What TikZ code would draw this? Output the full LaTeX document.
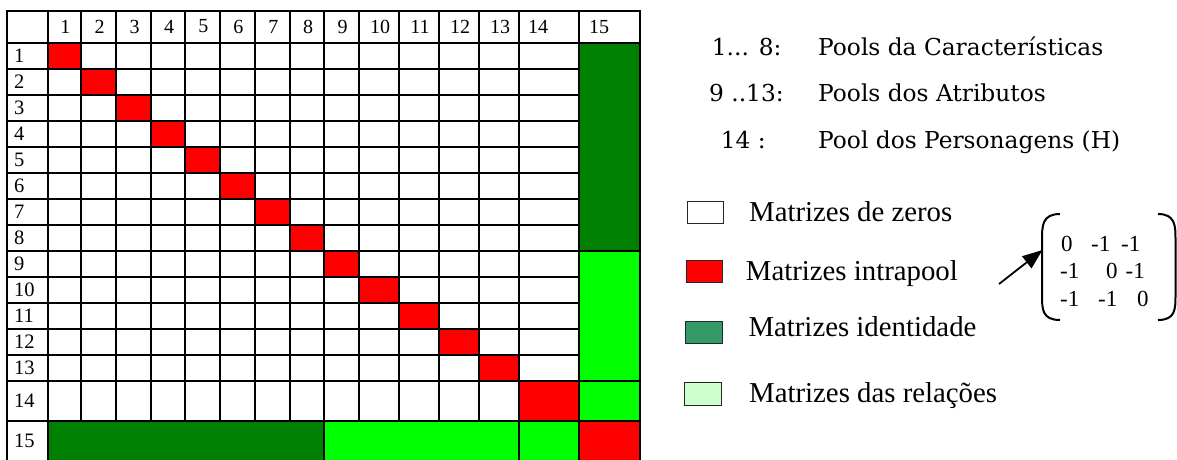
\documentclass[tikz,border=0pt]{standalone}
\usepackage{fontspec}
\setmainfont{Liberation Serif}
\newfontfamily\bkfont{DejaVu Serif}
\usetikzlibrary{arrows.meta}
\definecolor{cred}{RGB}{255,0,0}
\definecolor{dgreen}{RGB}{0,128,0}
\definecolor{lgreen}{RGB}{0,255,0}
\definecolor{legdg}{RGB}{51,153,102}
\definecolor{leglg}{RGB}{204,255,204}
\tikzset{
  gridline/.style={line width=2pt, line cap=rect},
  hdr/.style={font=\fontsize{20}{20}\selectfont, inner sep=0pt},
  rowlab/.style={font=\fontsize{20.5}{20.5}\selectfont, anchor=west, inner sep=0pt},
  legtext/.style={font=\fontsize{28.8}{28.8}\selectfont, anchor=base west, inner sep=0pt},
  pool/.style={font=\bkfont\fontsize{23.3}{23.3}\selectfont, anchor=base west, inner sep=0pt},
  mat/.style={font=\fontsize{23}{23}\selectfont, anchor=base west, inner sep=0pt},
  legbox/.style={draw=black!85, line width=1pt},
  bracket/.style={line width=2pt},
}
\begin{document}
\begin{tikzpicture}[x=1pt,y=-1pt]
\useasboundingbox (0,0) rectangle (1177,459);
\clip (0,0) rectangle (1177,459);
\def\xs{{7,47.7,81,116.3,151,185,219.7,255,289.7,324.3,359,399,439,479,519,579,639.5}}
\def\ys{{11,42.7,68.7,94.7,120.7,146.7,172.7,198.7,224.7,250.7,276.7,302.7,328.7,354.7,380.7,421,470}}
% red diagonal
\foreach \i in {1,...,15}{
  \pgfmathtruncatemacro\j{\i+1}
  \pgfmathsetmacro\xa{\xs[\i]}\pgfmathsetmacro\xb{\xs[\j]}
  \pgfmathsetmacro\ya{\ys[\i]}\pgfmathsetmacro\yb{\ys[\j]}
  \fill[cred] (\xa,\ya) rectangle (\xb,\yb);
}
% column 15 and row 15 blocks
\fill[dgreen] (579,42.7) rectangle (639.5,250.7);
\fill[lgreen] (579,250.7) rectangle (639.5,421);
\fill[dgreen] (47.7,421) rectangle (324.3,470);
\fill[lgreen] (324.3,421) rectangle (579,470);
% vertical lines
\foreach \c in {0,1,9,14,15,16}{
  \pgfmathsetmacro\xa{\xs[\c]}
  \draw[gridline] (\xa,11) -- (\xa,470);
}
\foreach \c in {2,...,8,10,11,12,13}{
  \pgfmathsetmacro\xa{\xs[\c]}
  \draw[gridline] (\xa,11) -- (\xa,421);
}
% horizontal lines
\foreach \r in {0,1,9,14,15}{
  \pgfmathsetmacro\ya{\ys[\r]}
  \draw[gridline] (7,\ya) -- (639.5,\ya);
}
\foreach \r in {2,...,8,10,11,12,13}{
  \pgfmathsetmacro\ya{\ys[\r]}
  \draw[gridline] (7,\ya) -- (579,\ya);
}
% header labels
\foreach \c in {1,...,13}{
  \pgfmathtruncatemacro\j{\c+1}
  \pgfmathsetmacro\xa{\xs[\c]}\pgfmathsetmacro\xb{\xs[\j]}
  \pgfmathsetmacro\xm{(\xa+\xb)/2+1}
  \node[hdr] (hc\c) at (\xm,26.5) {\c};
}
\node[hdr, anchor=west] (hc14) at (528,26.5) {14};
\node[hdr, anchor=west] (hc15) at (589,26.5) {15};
% row labels
\foreach \r in {1,...,14}{
  \pgfmathtruncatemacro\j{\r+1}
  \pgfmathsetmacro\ya{\ys[\r]}\pgfmathsetmacro\yb{\ys[\j]}
  \pgfmathsetmacro\ym{(\ya+\yb)/2}
  \node[rowlab] (rl\r) at (14,\ym) {\r};
}
\node[rowlab] (rl15) at (14,440.5) {15};
% pool descriptions
\node[pool] (pa) at (711.7,55) {1... 8:};
\node[pool] (pat) at (818,55) {Pools da Características};
\node[pool] (pb) at (709,101.7) {9 ..13:};
\node[pool] (pbt) at (818,101.7) {Pools dos Atributos};
\node[pool] (pc) at (720.7,148.3) {14 :};
\node[pool] (pct) at (818,148.3) {Pool dos Personagens (H)};
% legend
\draw[legbox, fill=white] (687.7,201) rectangle (723.5,223.3);
\draw[legbox, fill=cred] (686,260.7) rectangle (722.5,282.7);
\draw[legbox, fill=legdg] (685.3,321) rectangle (722,343.3);
\draw[legbox, fill=leglg] (684.3,382.7) rectangle (721,405);
\node[legtext] (lz) at (749,221) {Matrizes de zeros};
\node[legtext] (li) at (745.7,280) {Matrizes intrapool};
\node[legtext] (lid) at (748.3,336.7) {Matrizes identidade};
\node[legtext] (lr) at (749,402.7) {Matrizes das relações};
% matrix example
\node[mat] (m11) at (1061,251) {0};
\node[mat] (m12) at (1091,251) {-1};
\node[mat] (m13) at (1121,251) {-1};
\node[mat] (m21) at (1060,278.3) {-1};
\node[mat] (m22) at (1106,278.3) {0};
\node[mat] (m23) at (1125.5,278.3) {-1};
\node[mat] (m31) at (1060,306) {-1};
\node[mat] (m32) at (1098,306) {-1};
\node[mat] (m33) at (1137,306) {0};
\draw[bracket] (1060,214) .. controls (1042,214) and (1042,226) .. (1042,240) -- (1042,295) .. controls (1042,309) and (1042,320) .. (1060,320);
\draw[bracket] (1158,214) .. controls (1175.5,214) and (1175.5,226) .. (1175.5,240) -- (1175.5,295) .. controls (1175.5,309) and (1175.5,320) .. (1158,320);
\coordinate (arrtail) at (999,284);
\coordinate (arrtip) at (1042.5,250);
\draw[line width=1.8pt, -{Triangle[length=20pt,width=15pt]}] (arrtail) -- (arrtip);
\end{tikzpicture}
\end{document}
